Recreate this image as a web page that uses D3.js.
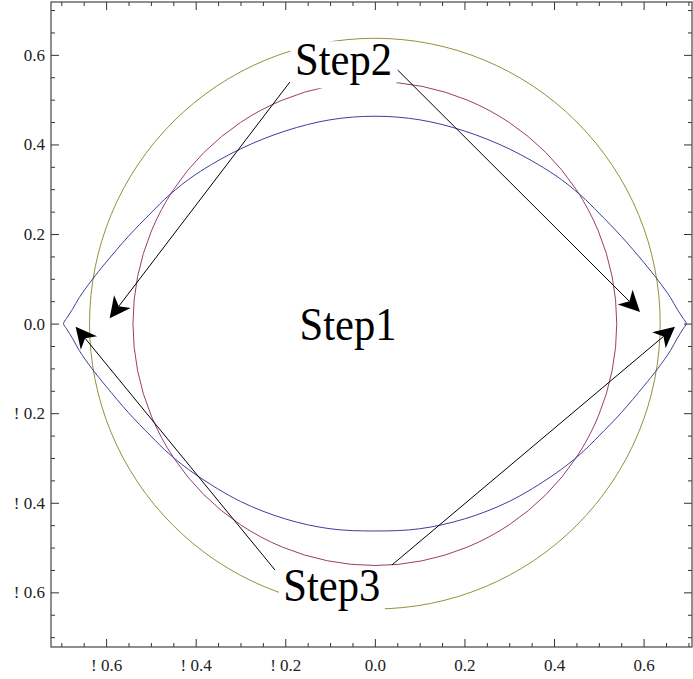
<!DOCTYPE html>
<html>
<head>
<meta charset="utf-8">
<script src="https://cdn.jsdelivr.net/npm/d3@7"></script>
<style>
  html, body { margin: 0; padding: 0; background: #fff; }
  svg { display: block; }
  .tick text { font-family: "Liberation Serif", "DejaVu Serif", serif; font-size: 17px; fill: #222; }
  .tick line { stroke: #333; }
  .lbl { font-family: "Liberation Serif", "DejaVu Serif", serif; font-size: 46px; fill: #000; }
</style>
</head>
<body>
<div id="chart"></div>
<script>
// tick values / labels (the original shows the minus sign as "!")
const majorTicks = [-0.6, -0.4, -0.2, 0.0, 0.2, 0.4, 0.6];
const tickLabels = ["! 0.6", "! 0.4", "! 0.2", "0.0", "0.2", "0.4", "0.6"];
const minorTicks = [-0.7, -0.65, -0.55, -0.5, -0.45, -0.35, -0.3, -0.25, -0.15, -0.1, -0.05,
                    0.05, 0.1, 0.15, 0.25, 0.3, 0.35, 0.45, 0.5, 0.55, 0.65, 0.7];

// circles (radius)
const circleRadii = [0.637, 0.54];
const circleColors = ["#998d3d", "#993d71"];

// blue lens-shaped curve
const lensX = [-0.695, -0.688, -0.675, -0.66, -0.632, -0.6, -0.55, -0.5, -0.459, -0.4, -0.3, -0.2, -0.1, 0,
               0.1, 0.2, 0.3, 0.4, 0.459, 0.5, 0.55, 0.6, 0.632, 0.66, 0.675, 0.688, 0.695];
const lensUpper = [0, 0.012, 0.032, 0.058, 0.097, 0.137, 0.195, 0.247, 0.287, 0.333, 0.39, 0.43, 0.455, 0.463,
                   0.455, 0.43, 0.39, 0.333, 0.287, 0.247, 0.195, 0.137, 0.097, 0.058, 0.032, 0.012, 0];
const lensLower = [0, -0.012, -0.033, -0.06, -0.1, -0.14, -0.199, -0.251, -0.291, -0.337, -0.397, -0.436, -0.458, -0.463,
                   -0.458, -0.436, -0.397, -0.337, -0.291, -0.251, -0.199, -0.14, -0.1, -0.06, -0.033, -0.012, 0];

// arrows: start -> tip, data coords
const arrowFrom = [[-0.19, 0.539], [0.051, 0.566], [-0.223, -0.55], [0.038, -0.539]];
const arrowTo   = [[-0.592, 0.012], [0.592, 0.026], [-0.668, -0.007], [0.670, -0.007]];

// text labels (box centre, data coords)
const labelText = ["Step1", "Step2", "Step3"];
const labelPos  = [[-0.060, -0.012], [-0.070, 0.579], [-0.096, -0.595]];

const width = 693, height = 679;
const svg = d3.select("#chart").append("svg")
    .attr("width", width)
    .attr("height", height);

const x = d3.scaleLinear().domain([-0.723, 0.708]).range([51, 692]);
const y = d3.scaleLinear().domain([-0.722, 0.718]).range([647, 2]);

const fmt = d => tickLabels[majorTicks.findIndex(t => Math.abs(t - d) < 1e-9)];

// curves
circleRadii.forEach((r, i) => {
    svg.append("circle")
        .attr("cx", x(0))
        .attr("cy", y(0))
        .attr("r", x(r) - x(0))
        .attr("fill", "none")
        .attr("stroke", circleColors[i])
        .attr("stroke-width", 1);
});

const lensPts = lensX.map((v, i) => [v, lensUpper[i]])
    .concat(lensX.slice(1, -1).map((v, i) => [v, lensLower[i + 1]]).reverse());
const lensLine = d3.line()
    .x(d => x(d[0]))
    .y(d => y(d[1]))
    .curve(d3.curveCatmullRomClosed.alpha(0.5));
svg.append("path")
    .attr("d", lensLine(lensPts))
    .attr("fill", "none")
    .attr("stroke", "#3f3d99")
    .attr("stroke-width", 1);

// arrows
arrowFrom.forEach((a, i) => {
    const x0 = x(a[0]), y0 = y(a[1]);
    const x1 = x(arrowTo[i][0]), y1 = y(arrowTo[i][1]);
    const len = Math.hypot(x1 - x0, y1 - y0);
    const ux = (x1 - x0) / len, uy = (y1 - y0) / len;
    const L = 21, W = 10.5, notch = 15;
    svg.append("line")
        .attr("x1", x0).attr("y1", y0)
        .attr("x2", x1 - ux * notch).attr("y2", y1 - uy * notch)
        .attr("stroke", "#000")
        .attr("stroke-width", 1);
    const bx = x1 - ux * L, by = y1 - uy * L;
    const head = [
        [x1, y1],
        [bx - uy * W, by + ux * W],
        [x1 - ux * notch, y1 - uy * notch],
        [bx + uy * W, by - ux * W]
    ];
    svg.append("path")
        .attr("d", "M" + head.join("L") + "Z")
        .attr("fill", "#000");
});

// labels with white background
labelText.forEach((t, i) => {
    const cx = x(labelPos[i][0]), cy = y(labelPos[i][1]);
    const g = svg.append("g");
    g.append("rect")
        .attr("fill", "#fff")
        .attr("x", cx - 53).attr("y", cy - 23)
        .attr("width", 106).attr("height", 47);
    g.append("text")
        .attr("class", "lbl")
        .attr("x", cx)
        .attr("y", cy + 11)
        .attr("text-anchor", "middle")
        .attr("textLength", 97)
        .attr("lengthAdjust", "spacingAndGlyphs")
        .text(t);
});

// frame ticks (inward)
function addAxis(axisFn, tx, ty, scale, labels) {
    const major = axisFn(scale)
        .tickValues(majorTicks)
        .tickSizeInner(-8)
        .tickSizeOuter(0)
        .tickPadding(labels ? (axisFn === d3.axisBottom ? 12 : 6) : 0)
        .tickFormat(labels ? fmt : "");
    const minor = axisFn(scale)
        .tickValues(minorTicks)
        .tickSizeInner(-4)
        .tickSizeOuter(0)
        .tickFormat("");
    const gMaj = svg.append("g").attr("transform", `translate(${tx},${ty})`).call(major);
    const gMin = svg.append("g").attr("transform", `translate(${tx},${ty})`).call(minor);
    gMaj.select(".domain").remove();
    gMin.select(".domain").remove();
    gMaj.attr("font-family", null).attr("font-size", null);
    return gMaj;
}
addAxis(d3.axisBottom, 0, 647, x, true);
addAxis(d3.axisTop, 0, 2, x, false);
addAxis(d3.axisLeft, 51, 0, y, true);
addAxis(d3.axisRight, 692, 0, y, false);

svg.append("rect")
    .attr("x", 51).attr("y", 2)
    .attr("width", 641).attr("height", 645)
    .attr("fill", "none")
    .attr("stroke", "#444")
    .attr("stroke-width", 1.2);
</script>
</body>
</html>
